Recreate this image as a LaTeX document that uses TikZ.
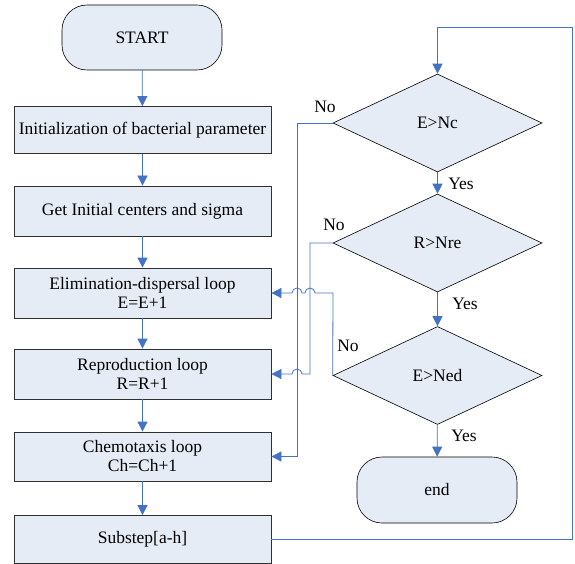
\documentclass[tikz,border=0pt]{standalone}
\usepackage{fontspec}
\setmainfont{Liberation Serif}
\usetikzlibrary{shapes.geometric,arrows.meta}
\definecolor{fillblue}{HTML}{E6ECF6}
\definecolor{linkblue}{HTML}{4472C4}
\definecolor{edge}{HTML}{303030}
\tikzset{
  every node/.style={font=\fontsize{17.5}{19}\selectfont},
  procbox/.style={draw=edge,line width=0.8pt,fill=fillblue,minimum width=257pt,align=center,inner sep=0pt},
  termbox/.style={draw=black,line width=0.6pt,fill=fillblue,minimum width=160pt,rounded corners=25pt,inner sep=0pt},
  decbox/.style={draw=black,line width=0.6pt,fill=fillblue,diamond,aspect=2.13,inner sep=0pt,minimum width=209pt,minimum height=98pt},
  arr/.style={draw=linkblue,line width=0.8pt,-{Triangle[length=10pt,width=10pt]}},
  lbl/.style={inner sep=0pt}
}
\begin{document}
\begin{tikzpicture}[x=1pt,y=-1pt]
\useasboundingbox (0,0) rectangle (575,564);
% left column
\node[termbox,minimum height=65pt] (start) at (142,37.5) {START};
\node[procbox,minimum height=47pt] (b1) at (142.5,130) {Initialization of bacterial parameter};
\node[procbox,minimum height=50pt] (b2) at (142.5,211) {Get Initial centers and sigma};
\node[procbox,minimum height=50pt] (b3) at (142.5,293) {Elimination-dispersal loop\\E=E+1};
\node[procbox,minimum height=50pt] (b4) at (142.5,374) {Reproduction loop\\R=R+1};
\node[procbox,minimum height=49pt] (b5) at (142.5,456.5) {Chemotaxis loop\\Ch=Ch+1};
\node[procbox,minimum height=48pt] (b6) at (142.5,539.5) {Substep[a-h]};
% right column
\node[decbox] (d1) at (437.5,123) {E>Nc};
\node[decbox] (d2) at (437.5,243) {R>Nre};
\node[decbox] (d3) at (437.5,375.5) {E>Ned};
\node[termbox,minimum height=66pt] (end) at (437,490) {end};
% labels
\node[lbl] (no1) at (325,107) {No};
\node[lbl] (no2) at (334,225) {No};
\node[lbl] (no3) at (348,346) {No};
\node[lbl] (yes1) at (461,184) {Yes};
\node[lbl] (yes2) at (465,304) {Yes};
\node[lbl] (yes3) at (464,436) {Yes};
% coordinates
\coordinate (rt) at (572,27);
\coordinate (v1) at (297,456.5);
\coordinate (v2) at (310,374);
\coordinate (v3) at (333,293);
% main flow
\draw[arr] (start) -- (b1);
\draw[arr] (b1) -- (b2);
\draw[arr] (b2) -- (b3);
\draw[arr] (b3) -- (b4);
\draw[arr] (b4) -- (b5);
\draw[arr] (b5) -- (b6);
\draw[arr] (d1) -- (d2);
\draw[arr] (d2) -- (d3);
\draw[arr] (d3) -- (end);
\draw[arr] (b6.east) -| (rt) -| (d1.north);
% No branches
\draw[arr] (d1.west) -| (v1) -- (b5.east);
\draw[arr] (d2.west) -| (v2) -- (302,374) arc[start angle=0,end angle=-180,radius=5] -- (b4.east);
\draw[arr] (d3.west) -- (v3) -- (315,293) arc[start angle=0,end angle=-180,radius=5] -- (302,293) arc[start angle=0,end angle=-180,radius=5] -- (b3.east);
\end{tikzpicture}
\end{document}
